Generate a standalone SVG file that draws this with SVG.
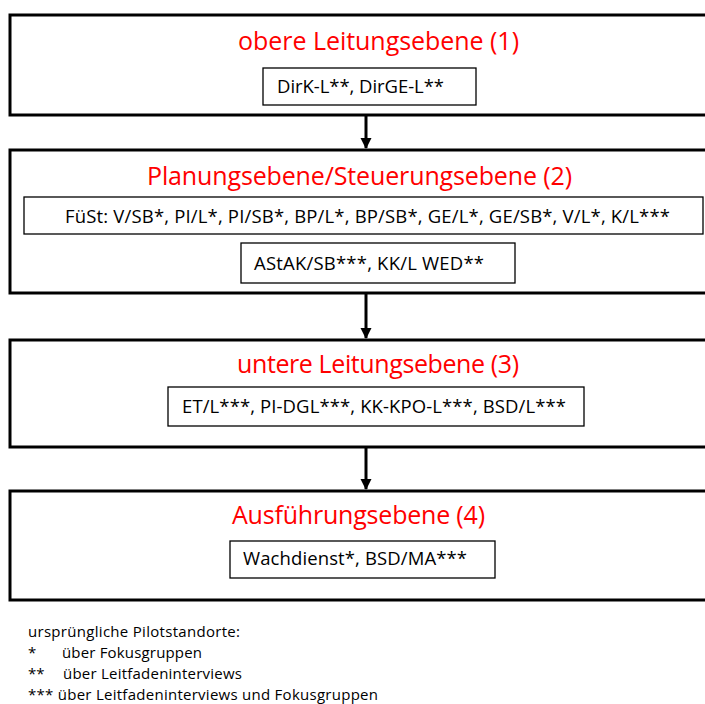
<svg xmlns="http://www.w3.org/2000/svg" width="705" height="704" viewBox="0 0 705 704">
  <defs>
    <marker id="arrowhead" markerWidth="12" markerHeight="12" refX="10" refY="5.5" orient="auto" markerUnits="userSpaceOnUse">
      <path d="M0,0 L11,5.5 L0,11 Z" fill="#000"/>
    </marker>
  </defs>
  <style>
    .level { fill: #fff; stroke: #000; stroke-width: 3; }
    .item { fill: #fff; stroke: #000; stroke-width: 1.3; }
    .title { font-family: "Open Sans", "Liberation Sans", sans-serif; font-size: 25px; fill: #ff0000; }
    .label { font-family: "Open Sans", "Liberation Sans", sans-serif; font-size: 18.5px; fill: #000; }
    .legend { font-family: "Open Sans", "Liberation Sans", sans-serif; font-size: 15px; fill: #000; }
    .conn { stroke: #000; stroke-width: 3; fill: none; }
  </style>
  <rect width="705" height="704" fill="#fff"/>

  <g id="level1">
    <rect class="level" x="10" y="15" width="710" height="100"/>
    <text class="title" x="238" y="50" textLength="281" lengthAdjust="spacing">obere Leitungsebene (1)</text>
    <rect class="item" x="263" y="68" width="213" height="37"/>
    <text class="label" x="277" y="93" textLength="167" lengthAdjust="spacing">DirK-L**, DirGE-L**</text>
  </g>

  <g id="level2">
    <rect class="level" x="10" y="150" width="710" height="143"/>
    <text class="title" x="147" y="185" textLength="425" lengthAdjust="spacing">Planungsebene/Steuerungsebene (2)</text>
    <rect class="item" x="24" y="197" width="679" height="37"/>
    <text class="label" x="65" y="223" textLength="605" lengthAdjust="spacing">FüSt: V/SB*, PI/L*, PI/SB*, BP/L*, BP/SB*, GE/L*, GE/SB*, V/L*, K/L***</text>
    <rect class="item" x="241" y="243" width="274" height="40"/>
    <text class="label" x="254" y="270" textLength="230" lengthAdjust="spacing">AStAK/SB***,  KK/L WED**</text>
  </g>

  <g id="level3">
    <rect class="level" x="10" y="340" width="710" height="107"/>
    <text class="title" x="237" y="373" textLength="282" lengthAdjust="spacing">untere Leitungsebene (3)</text>
    <rect class="item" x="168" y="387" width="416" height="39"/>
    <text class="label" x="182" y="413" textLength="384" lengthAdjust="spacing">ET/L***, PI-DGL***, KK-KPO-L***, BSD/L***</text>
  </g>

  <g id="level4">
    <rect class="level" x="10" y="491" width="710" height="109"/>
    <text class="title" x="232" y="524" textLength="253" lengthAdjust="spacing">Ausführungsebene (4)</text>
    <rect class="item" x="230" y="541" width="265" height="37"/>
    <text class="label" x="243" y="565" textLength="224" lengthAdjust="spacing">Wachdienst*, BSD/MA***</text>
  </g>

  <g id="connectors">
    <line class="conn" x1="366" y1="115" x2="366" y2="148" marker-end="url(#arrowhead)"/>
    <line class="conn" x1="366" y1="293" x2="366" y2="338" marker-end="url(#arrowhead)"/>
    <line class="conn" x1="366" y1="447" x2="366" y2="489" marker-end="url(#arrowhead)"/>
  </g>

  <g id="legend">
    <text class="legend" x="28" y="637" textLength="212" lengthAdjust="spacing">ursprüngliche Pilotstandorte:</text>
    <text class="legend" x="28" y="658">*</text>
    <text class="legend" x="62" y="658" textLength="140" lengthAdjust="spacing">über Fokusgruppen</text>
    <text class="legend" x="28" y="679">**</text>
    <text class="legend" x="63" y="679" textLength="179" lengthAdjust="spacing">über Leitfadeninterviews</text>
    <text class="legend" x="28" y="700" textLength="350" lengthAdjust="spacing">*** über Leitfadeninterviews und Fokusgruppen</text>
  </g>
</svg>
